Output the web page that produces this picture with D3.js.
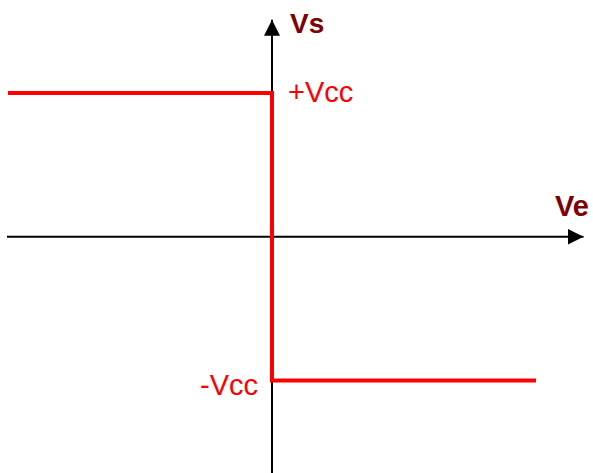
<!DOCTYPE html>
<html>
<head>
<meta charset="utf-8">
<script src="https://cdn.jsdelivr.net/npm/d3@7"></script>
<style>
  body { margin: 0; background: #fff; }
  svg { display: block; }
</style>
</head>
<body>
<div id="main"></div>
<script>
// comparator transfer curve: Vs against Ve
var veValues = [-1, 0, 0, 1],   // input voltage (x)
    vsValues = [1, 1, -1, -1];  // output voltage (y), +Vcc / -Vcc

var levelLabels = ['+Vcc', '-Vcc'],
    levelValues = [1, -1];

var axisNames = { x: 'Ve', y: 'Vs' };

var width = 593,
    height = 473;

var red = '#ff0000',
    darkRed = '#7f0000';

var x = d3.scaleLinear().domain([-1, 1]).range([8, 536]),
    y = d3.scaleLinear().domain([-1, 1]).range([380.5, 93]);

var svg = d3.select('#main')
  .append('svg')
  .attr('width', width)
  .attr('height', height)
  .style('font-family', '"Liberation Sans", Arial, sans-serif');

// arrow heads
var defs = svg.append('defs');
defs.append('marker')
  .attr('id', 'arrow')
  .attr('viewBox', '0 0 16 16')
  .attr('refX', 16).attr('refY', 8)
  .attr('markerWidth', 16).attr('markerHeight', 16)
  .attr('markerUnits', 'userSpaceOnUse')
  .attr('orient', 'auto')
  .append('path')
  .attr('d', 'M0,0 L16,8 L0,16 Z')
  .attr('fill', '#000');

// horizontal axis (Ve)
svg.append('line')
  .attr('x1', x(-1) - 1).attr('x2', x(1.18))
  .attr('y1', y(0)).attr('y2', y(0))
  .attr('stroke', '#000').attr('stroke-width', 2)
  .attr('marker-end', 'url(#arrow)');

// vertical axis (Vs)
svg.append('line')
  .attr('x1', x(0)).attr('x2', x(0))
  .attr('y1', height).attr('y2', y(1.51))
  .attr('stroke', '#000').attr('stroke-width', 2)
  .attr('marker-end', 'url(#arrow)');

// the curve
var line = d3.line()
  .x(function(d, i) { return x(veValues[i]); })
  .y(function(d) { return y(d); });

svg.append('path')
  .datum(vsValues)
  .attr('d', line)
  .attr('fill', 'none')
  .attr('stroke', red)
  .attr('stroke-width', 4);

// axis names
svg.append('text')
  .attr('x', x(0) + 18).attr('y', 33)
  .attr('font-size', 28).attr('font-weight', 'bold')
  .attr('fill', darkRed)
  .text(axisNames.y);

svg.append('text')
  .attr('x', 555).attr('y', 216)
  .attr('font-size', 29).attr('font-weight', 'bold')
  .attr('fill', darkRed)
  .text(axisNames.x);

// level labels
svg.selectAll('.level')
  .data(levelValues)
  .enter().append('text')
  .attr('class', 'level')
  .attr('x', function(d) { return d > 0 ? x(0) + 16 : x(0) - 14; })
  .attr('y', function(d) { return y(d) + (d > 0 ? 9 : 14); })
  .attr('text-anchor', function(d) { return d > 0 ? 'start' : 'end'; })
  .attr('font-size', 29)
  .attr('fill', red)
  .text(function(d, i) { return levelLabels[i]; });
</script>
</body>
</html>
